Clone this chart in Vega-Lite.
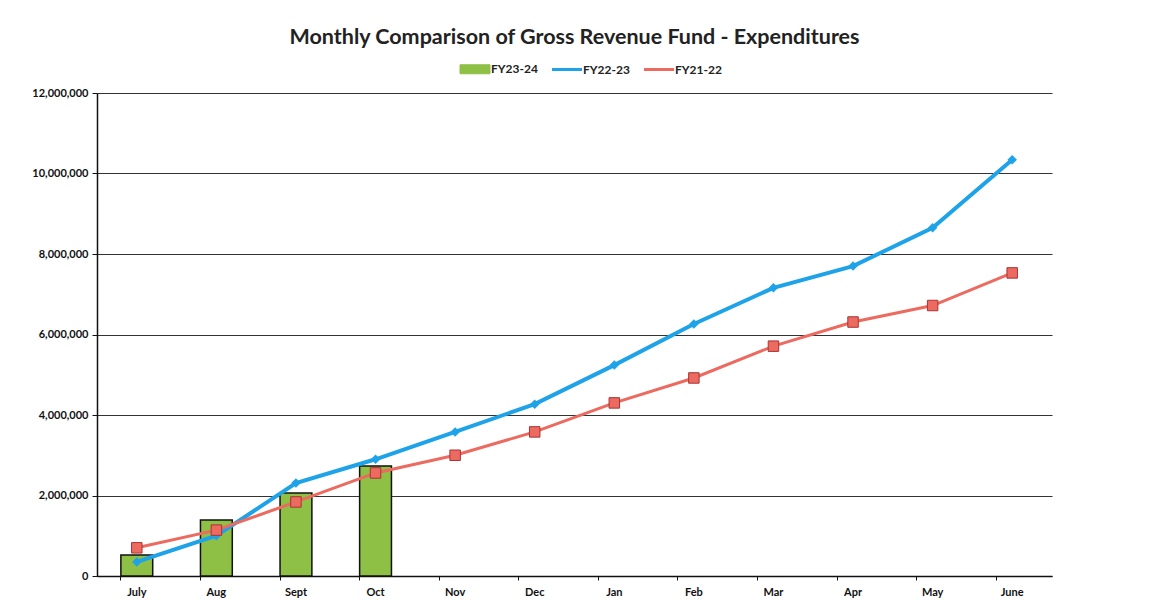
{
  "$schema": "https://vega.github.io/schema/vega-lite/v6.json",
  "width": 955,
  "height": 483,
  "autosize": {"type": "none"},
  "padding": {"left": 97, "top": 93, "right": 106, "bottom": 25},
  "background": "white",
  "title": {
    "text": "Monthly Comparison of Gross Revenue Fund - Expenditures",
    "font": "Lato",
    "fontSize": 21.5,
    "fontWeight": "bold",
    "color": "#222",
    "anchor": "middle",
    "offset": 15
  },
  "config": {
    "view": {"stroke": null},
    "axis": {"labelFont": "Lato", "labelFontWeight": "bold", "labelFontSize": 11, "labelColor": "#111", "domainColor": "#111", "tickColor": "#111", "title": null}
  },
  "data": {
    "values": [
      {"month": "July", "series": "FY23-24", "value": 520000},
      {"month": "Aug", "series": "FY23-24", "value": 1390000},
      {"month": "Sept", "series": "FY23-24", "value": 2060000},
      {"month": "Oct", "series": "FY23-24", "value": 2730000},
      {"month": "July", "series": "FY22-23", "value": 350000},
      {"month": "Aug", "series": "FY22-23", "value": 1000000},
      {"month": "Sept", "series": "FY22-23", "value": 2310000},
      {"month": "Oct", "series": "FY22-23", "value": 2900000},
      {"month": "Nov", "series": "FY22-23", "value": 3580000},
      {"month": "Dec", "series": "FY22-23", "value": 4270000},
      {"month": "Jan", "series": "FY22-23", "value": 5240000},
      {"month": "Feb", "series": "FY22-23", "value": 6260000},
      {"month": "Mar", "series": "FY22-23", "value": 7160000},
      {"month": "Apr", "series": "FY22-23", "value": 7700000},
      {"month": "May", "series": "FY22-23", "value": 8650000},
      {"month": "June", "series": "FY22-23", "value": 10340000},
      {"month": "July", "series": "FY21-22", "value": 700000},
      {"month": "Aug", "series": "FY21-22", "value": 1140000},
      {"month": "Sept", "series": "FY21-22", "value": 1840000},
      {"month": "Oct", "series": "FY21-22", "value": 2560000},
      {"month": "Nov", "series": "FY21-22", "value": 3000000},
      {"month": "Dec", "series": "FY21-22", "value": 3580000},
      {"month": "Jan", "series": "FY21-22", "value": 4300000},
      {"month": "Feb", "series": "FY21-22", "value": 4920000},
      {"month": "Mar", "series": "FY21-22", "value": 5710000},
      {"month": "Apr", "series": "FY21-22", "value": 6310000},
      {"month": "May", "series": "FY21-22", "value": 6720000},
      {"month": "June", "series": "FY21-22", "value": 7530000}
    ]
  },
  "encoding": {
    "x": {
      "field": "month", "type": "nominal",
      "scale": {"domain": ["July","Aug","Sept","Oct","Nov","Dec","Jan","Feb","Mar","Apr","May","June"], "paddingInner": 0.6, "paddingOuter": 0.3},
      "axis": {"labelAngle": 0, "bandPosition": 0, "tickSize": 4, "labelPadding": 6, "grid": false, "domainWidth": 1.5}
    },
    "y": {
      "field": "value", "type": "quantitative",
      "scale": {"domain": [0, 12000000]},
      "axis": {"labelExpr": "format(datum.value, ',')", "values": [0,2000000,4000000,6000000,8000000,10000000,12000000], "grid": true, "gridColor": "#333", "gridWidth": 1, "tickSize": 5, "labelPadding": 4, "domainWidth": 1.5}
    },
    "color": {
      "field": "series", "type": "nominal",
      "scale": {"domain": ["FY23-24","FY22-23","FY21-22"], "range": ["#8fc046","#1fa3e8","#ec6a60"]},
      "legend": {
        "orient": "none", "legendX": 372, "legendY": -30, "direction": "horizontal", "title": null,
        "labelFont": "Lato", "labelFontWeight": "bold", "labelFontSize": 12, "labelColor": "#222",
        "symbolSize": 900, "columnPadding": 8, "labelOffset": 10,
        "encode": {
          "symbols": {
            "update": {
              "shape": {"signal": "datum.value == 'FY23-24' ? 'M-1,-0.3H1V0.3H-1Z' : 'M-1,0H1'"},
              "strokeWidth": {"signal": "datum.value == 'FY23-24' ? 1 : 3"},
              "stroke": {"signal": "datum.value == 'FY23-24' ? '#222' : scale('color', datum.value)"}
            }
          }
        }
      }
    }
  },
  "layer": [
    {
      "transform": [{"filter": "datum.series == 'FY23-24'"}],
      "mark": {"type": "bar", "stroke": "#111", "strokeWidth": 1.5}
    },
    {
      "transform": [{"filter": "datum.series == 'FY22-23'"}],
      "mark": {"type": "line", "strokeWidth": 4, "point": {"shape": "diamond", "size": 90, "filled": true, "color": "#1a8fd6"}}
    },
    {
      "transform": [{"filter": "datum.series == 'FY21-22'"}],
      "mark": {"type": "line", "strokeWidth": 3, "point": {"shape": "square", "size": 110, "filled": true, "color": "#f0645a", "stroke": "#a33", "strokeWidth": 1}}
    }
  ]
}
